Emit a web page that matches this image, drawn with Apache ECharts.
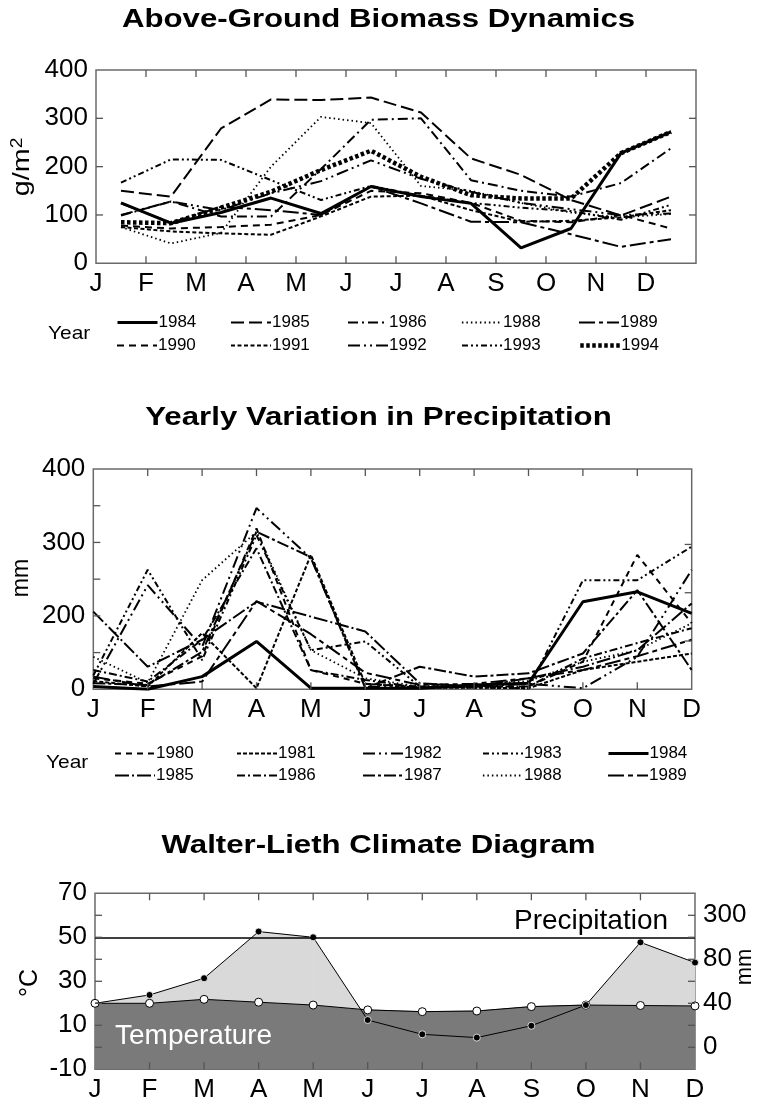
<!DOCTYPE html>
<html><head><meta charset="utf-8">
<script src="https://cdn.jsdelivr.net/npm/echarts@6/dist/echarts.min.js"></script>
<style>html,body{margin:0;padding:0;background:#fff}#c{width:757px;height:1104px}</style>
</head><body><div id="c"></div>
<script>
// ---------- data ----------
const months = ['J','F','M','A','M','J','J','A','S','O','N','D'];

// Above-ground biomass (g/m2), mid-month values
const biomassYears = ['1984','1985','1986','1988','1989','1990','1991','1992','1993','1994'];
const biomass1984 = [125, 83, 105, 135, 103, 159, 138, 124, 32, 72, 228, 272];
const biomass1985 = [150, 138, 279, 339, 338, 343, 312, 217, 183, 131, 99, 138];
const biomass1986 = [99, 128, 97, 97, 195, 297, 300, 172, 150, 138, 166, 238];
const biomass1988 = [75, 41, 63, 200, 303, 290, 160, 150, 125, 105, 95, 102];
const biomass1989 = [124, 84, 117, 110, 100, 159, 124, 86, 85, 60, 34, 50];
const biomass1990 = [78, 72, 75, 80, 100, 150, 145, 125, 88, 85, 100, 72];
const biomass1991 = [75, 66, 62, 59, 97, 138, 140, 110, 86, 88, 95, 110];
const biomass1992 = [100, 128, 110, 145, 170, 213, 175, 148, 125, 112, 100, 103];
const biomass1993 = [167, 215, 214, 172, 131, 160, 140, 125, 115, 108, 90, 121];
const biomass1994 = [85, 83, 115, 148, 193, 233, 179, 141, 134, 134, 228, 272];
const biomassTicks = [0, 100, 200, 300, 400];

// Precipitation (mm) on the plot's linear 0-400 frame
const precipYears = ['1980','1981','1982','1983','1984','1985','1986','1987','1988','1989'];
const precip1980 = [20, 10, 60, 292, 35, 10, 5, 5, 5, 50, 244, 120];
const precip1981 = [15, 5, 102, 2, 244, 10, 3, 3, 2, 35, 50, 65];
const precip1982 = [10, 189, 77, 329, 238, 5, 2, 5, 10, 2, 59, 217];
const precip1983 = [25, 217, 53, 280, 71, 87, 5, 3, 2, 198, 198, 259];
const precip1984 = [5, 0, 23, 87, 2, 2, 2, 8, 11, 159, 177, 138];
const precip1985 = [141, 41, 90, 159, 132, 105, 11, 5, 20, 41, 71, 156];
const precip1986 = [35, 14, 90, 256, 35, 17, 3, 5, 5, 56, 84, 111];
const precip1987 = [11, 8, 68, 286, 240, 2, 41, 23, 29, 65, 180, 35];
const precip1988 = [59, 12, 198, 286, 71, 20, 5, 8, 15, 50, 71, 120];
const precip1989 = [23, 5, 14, 160, 100, 30, 8, 10, 20, 35, 60, 90];
const precipTickLabels = {0: '0', 2: '200', 4: '300', 6: '400'};

// Walter-Lieth climate diagram (°C scale)
const climateTemp = [20, 20, 21.8, 20.5, 19.2, 17, 16.2, 16.5, 18.5, 19.2, 19, 18.8];
const climatePrec = [20, 23.8, 31.4, 52.6, 50, 12.4, 5.9, 4.4, 9.8, 19.2, 47.7, 38.5];
const climateLeftLabels = {'-10': '-10', 10: '10', 30: '30', 50: '50', 70: '70'};
const climateRightLabels = {0: '0', 20: '40', 40: '80', 60: '300'};

// ---------- styles ----------
const FONT = '"Liberation Sans", Arial, Helvetica, sans-serif';
const TICKCOLOR = '#555555';
const BLANK = '{e|.}';
const bioStyle = {
  '1984': {w: 3, t: 'solid'},
  '1985': {w: 2, t: [13, 5]},
  '1986': {w: 2, t: [10, 4, 2, 4]},
  '1988': {w: 1.8, t: [1.5, 3]},
  '1989': {w: 2, t: [16, 4, 4, 4]},
  '1990': {w: 2, t: [7, 5]},
  '1991': {w: 2, t: [4, 2.5]},
  '1992': {w: 2, t: [12, 4, 2, 4, 2, 4]},
  '1993': {w: 2, t: [6, 3, 2, 3, 2, 3]},
  '1994': {w: 4.5, t: [3.5, 2.5]}
};
const preStyle = {
  '1980': {w: 2, t: [6, 5]},
  '1981': {w: 2, t: [4, 2]},
  '1982': {w: 2, t: [12, 4, 2, 4, 2, 4]},
  '1983': {w: 2, t: [6, 3, 2, 3, 2, 3]},
  '1984': {w: 3, t: 'solid'},
  '1985': {w: 2, t: [14, 3, 2, 3]},
  '1986': {w: 2, t: [8, 3, 2, 3]},
  '1987': {w: 2, t: [12, 3, 3, 3]},
  '1988': {w: 1.8, t: [1.5, 3]},
  '1989': {w: 2, t: [16, 4, 5, 4]}
};
const bioData = {'1984': biomass1984, '1985': biomass1985, '1986': biomass1986, '1988': biomass1988, '1989': biomass1989,
  '1990': biomass1990, '1991': biomass1991, '1992': biomass1992, '1993': biomass1993, '1994': biomass1994};
const preData = {'1980': precip1980, '1981': precip1981, '1982': precip1982, '1983': precip1983, '1984': precip1984,
  '1985': precip1985, '1986': precip1986, '1987': precip1987, '1988': precip1988, '1989': precip1989};

function range(a, b, s) { const r = []; for (let v = a; v <= b + 1e-9; v += s) r.push(Math.round(v * 1000) / 1000); return r; }
function lbl(show, fmt) {
  return {show: show, margin: 8, formatter: fmt, interval: 0, showMinLabel: true, showMaxLabel: true, hideOverlap: false,
    color: '#000', fontSize: 26, fontFamily: FONT,
    rich: {e: {fontSize: 1, lineHeight: 1, color: 'rgba(0,0,0,0)'}}};
}
function pick(map) {
  return v => { const k = String(Math.round(v)); return map[k] !== undefined ? map[k] : BLANK; };
}
function xAx(gi, pos, max, labels) {
  return {type: 'value', gridIndex: gi, position: pos, min: 0, max: max, interval: 1,
    axisLine: {show: false}, splitLine: {show: false}, axisTick: {show: false},
    axisLabel: lbl(labels, v => { const m = months[Math.round(v)]; return m !== undefined ? m : BLANK; })};
}
function yAx(gi, pos, min, max, interval, fmt, show) {
  return {type: 'value', gridIndex: gi, position: pos, min: min, max: max, interval: interval,
    show: show !== false,
    axisLine: {show: false}, splitLine: {show: false}, axisTick: {show: false},
    axisLabel: lbl(!!fmt, fmt || (v => BLANK))};
}
const gridBase = {show: true, borderColor: '#6a6a6a', borderWidth: 1.5, backgroundColor: 'rgba(0,0,0,0)', containLabel: false, outerBoundsMode: 'none'};

// inward tick marks drawn through the axes' scales
function tickSeries(xi, yi, items) {
  return {type: 'custom', xAxisIndex: xi, yAxisIndex: yi, silent: true, z: 20, clip: false,
    data: items, encode: {x: 0, y: 1},
    renderItem: function (p, api) {
      const pt = api.coord([api.value(0), api.value(1)]);
      const dx = api.value(2), dy = api.value(3);
      const L = 7, W = 1.3;
      const shape = dx !== 0
        ? {x: dx > 0 ? pt[0] : pt[0] - L, y: pt[1] - W / 2, width: L, height: W}
        : {x: pt[0] - W / 2, y: dy > 0 ? pt[1] : pt[1] - L, width: W, height: L};
      return {type: 'rect', shape: shape, style: {fill: TICKCOLOR}};
    }};
}
function frameTicks(xTicks, xMin, xMax, yBottom, yTop, yLeftTicks, yRightTicks) {
  const out = [];
  xTicks.forEach(v => { out.push([v, yTop, 0, 1]); out.push([v, yBottom, 0, -1]); });
  yLeftTicks.forEach(v => out.push([xMin, v, 1, 0]));
  yRightTicks.forEach(v => out.push([xMax, v, -1, 0]));
  return out;
}

const series = [];
biomassYears.forEach(y => {
  series.push({name: 'B' + y, type: 'line', xAxisIndex: 0, yAxisIndex: 0, symbol: 'none', silent: true,
    itemStyle: {color: '#000'},
    lineStyle: {color: '#000', width: bioStyle[y].w, type: bioStyle[y].t, cap: 'butt'},
    data: bioData[y].map((v, i) => [i + 0.5, v])});
});
precipYears.forEach(y => {
  series.push({name: 'P' + y, type: 'line', xAxisIndex: 2, yAxisIndex: 4, symbol: 'none', silent: true,
    itemStyle: {color: '#000'},
    lineStyle: {color: '#000', width: preStyle[y].w, type: preStyle[y].t, cap: 'butt'},
    data: preData[y].map((v, i) => [i, v])});
});

const LIGHT = '#d9d9d9', ARID = '#3f3f3f', TEMPFILL = '#7a7a7a';
function poly(pts, fill) {
  return {type: 'polygon', shape: {points: pts}, style: {fill: fill, stroke: fill, lineWidth: 0.6}};
}
series.push({
  type: 'custom', xAxisIndex: 4, yAxisIndex: 5, silent: true, z: 1,
  data: climateTemp.slice(0, -1).map((t, i) => [i, t]),
  encode: {x: 0, y: 1},
  renderItem: function (params, api) {
    const i = api.value(0);
    const t0 = climateTemp[i], t1 = climateTemp[i + 1], p0 = climatePrec[i], p1 = climatePrec[i + 1];
    const d0 = p0 - t0, d1 = p1 - t1;
    const P = (x, y) => api.coord([x, y]);
    const col = d => (d >= 0 ? LIGHT : ARID);
    const ch = [];
    if (d0 * d1 < 0) {
      const f = d0 / (d0 - d1);
      const xc = i + f, yc = t0 + f * (t1 - t0);
      ch.push(poly([P(i, t0), P(xc, yc), P(i, p0)], col(d0)));
      ch.push(poly([P(xc, yc), P(i + 1, t1), P(i + 1, p1)], col(d1)));
    } else {
      ch.push(poly([P(i, t0), P(i + 1, t1), P(i + 1, p1), P(i, p0)], col(d0 + d1)));
    }
    return {type: 'group', children: ch};
  }
});
series.push({
  name: 'temp', type: 'line', xAxisIndex: 4, yAxisIndex: 5, silent: true, z: 3,
  symbol: 'circle', symbolSize: 8, showSymbol: true,
  itemStyle: {color: '#fff', borderColor: '#000', borderWidth: 1},
  lineStyle: {color: '#000', width: 1},
  areaStyle: {color: TEMPFILL, opacity: 1, origin: 'start'},
  data: climateTemp.map((v, i) => [i, v])
});
series.push({
  name: 'prec', type: 'line', xAxisIndex: 4, yAxisIndex: 5, silent: true, z: 4,
  symbol: (v, p) => (p.dataIndex === 0 ? 'none' : 'circle'), symbolSize: 7,
  itemStyle: {color: '#000', borderColor: '#fff', borderWidth: 0.8},
  lineStyle: {color: '#000', width: 1},
  data: climatePrec.map((v, i) => [i, v]),
  markLine: {silent: true, symbol: 'none', label: {show: false}, animation: false,
    lineStyle: {color: '#000', width: 1.6, type: 'solid'}, data: [{yAxis: 50}]}
});

// tick marks
series.push(tickSeries(0, 0, frameTicks(range(1, 11, 1), 0, 12, 0, 400, [100, 200, 300], [100, 200, 300])));
series.push(tickSeries(2, 2, frameTicks(range(1, 10, 1), 0, 11, 0, 6, [1, 2, 3, 4, 5], [])));
series.push(tickSeries(2, 3, frameTicks([], 0, 11, 0, 4.5625, [], [1, 2, 3])));
series.push(tickSeries(4, 5, frameTicks(range(1, 10, 1), 0, 11, -10, 70, range(0, 60, 10), range(0, 60, 10))));

function legendItems(names, prefix, styles, lefts, rowTops) {
  return names.map((n, i) => ({
    data: [prefix + n], left: lefts[i % 5], top: rowTops[Math.floor(i / 5)],
    orient: 'horizontal', padding: 0, itemGap: 0, itemWidth: 40, itemHeight: 14,
    selectedMode: false, formatter: s => s.slice(1),
    itemStyle: {opacity: 0},
    lineStyle: {color: '#000', width: styles[n].w, type: styles[n].t, cap: 'butt'},
    textStyle: {fontSize: 17, color: '#000', fontFamily: FONT, padding: [0, 0, 0, -4]}
  }));
}
const legends = legendItems(biomassYears, 'B', bioStyle, [116, 230, 347, 461, 578], [314, 337])
  .concat(legendItems(precipYears, 'P', preStyle, [114, 236, 362, 482, 607], [745, 767]));

function txt(x, y, text, size, opts, styleExtra) {
  return Object.assign({type: 'text', x: x, y: y, z: 100,
    style: Object.assign({text: text, fontSize: size, fontFamily: FONT, fill: '#000', align: 'center', verticalAlign: 'middle'}, styleExtra || {})}, opts || {});
}
const graphic = [
  txt(378.5, 20, 'Above-Ground Biomass Dynamics', 26, {scaleX: 1.2}, {fontWeight: 'bold'}),
  txt(378.5, 418, 'Yearly Variation in Precipitation', 26, {scaleX: 1.2}, {fontWeight: 'bold'}),
  txt(378.5, 846, 'Walter-Lieth Climate Diagram', 26, {scaleX: 1.2}, {fontWeight: 'bold'}),
  {type: 'text', x: 22, y: 167, rotation: Math.PI / 2, scaleX: 1.2, z: 100,
    style: {text: '{a|g/m}{s|2}', fontFamily: FONT, fill: '#000', align: 'center', verticalAlign: 'middle',
      rich: {a: {fontSize: 24, fontFamily: FONT, verticalAlign: 'bottom'}, s: {fontSize: 16, fontFamily: FONT, verticalAlign: 'top'}}}},
  txt(22, 578, 'mm', 23, {rotation: Math.PI / 2}),
  txt(30, 983, '°C', 25, {rotation: Math.PI / 2}),
  txt(745, 967, 'mm', 22, {rotation: Math.PI / 2}),
  txt(48, 334, 'Year', 19, {scaleX: 1.1}, {align: 'left'}),
  txt(46, 763, 'Year', 19, {scaleX: 1.1}, {align: 'left'}),
  txt(514, 921, 'Precipitation', 28, {}, {align: 'left'}),
  txt(115, 1036, 'Temperature', 28, {}, {align: 'left', fill: '#fff'})
];

const option = {
  animation: false,
  textStyle: {fontFamily: FONT},
  grid: [
    Object.assign({left: 96, top: 70, width: 600, height: 193.3}, gridBase),
    Object.assign({left: 93.3, top: 469, width: 598.4, height: 220.3}, gridBase),
    Object.assign({left: 95, top: 893.3, width: 600, height: 176}, gridBase)
  ],
  xAxis: [
    xAx(0, 'bottom', 12, true), xAx(0, 'top', 12, false),
    xAx(1, 'bottom', 11, true), xAx(1, 'top', 11, false),
    xAx(2, 'bottom', 11, true), xAx(2, 'top', 11, false)
  ],
  yAxis: [
    yAx(0, 'left', 0, 400, 100, v => (biomassTicks.indexOf(Math.round(v)) >= 0 ? String(Math.round(v)) : BLANK)),
    yAx(0, 'right', 0, 400, 100, null),
    yAx(1, 'left', 0, 6, 1, pick(precipTickLabels)),
    yAx(1, 'right', 0, 4.5625, 1, null),
    yAx(1, 'left', 0, 400, 100, null, false),
    yAx(2, 'left', -10, 70, 10, pick(climateLeftLabels)),
    yAx(2, 'right', -10, 70, 10, pick(climateRightLabels))
  ],
  legend: legends,
  graphic: graphic,
  series: series
};
const chart = echarts.init(document.getElementById('c'), null, {renderer: 'canvas'});
chart.setOption(option);
</script></body></html>
